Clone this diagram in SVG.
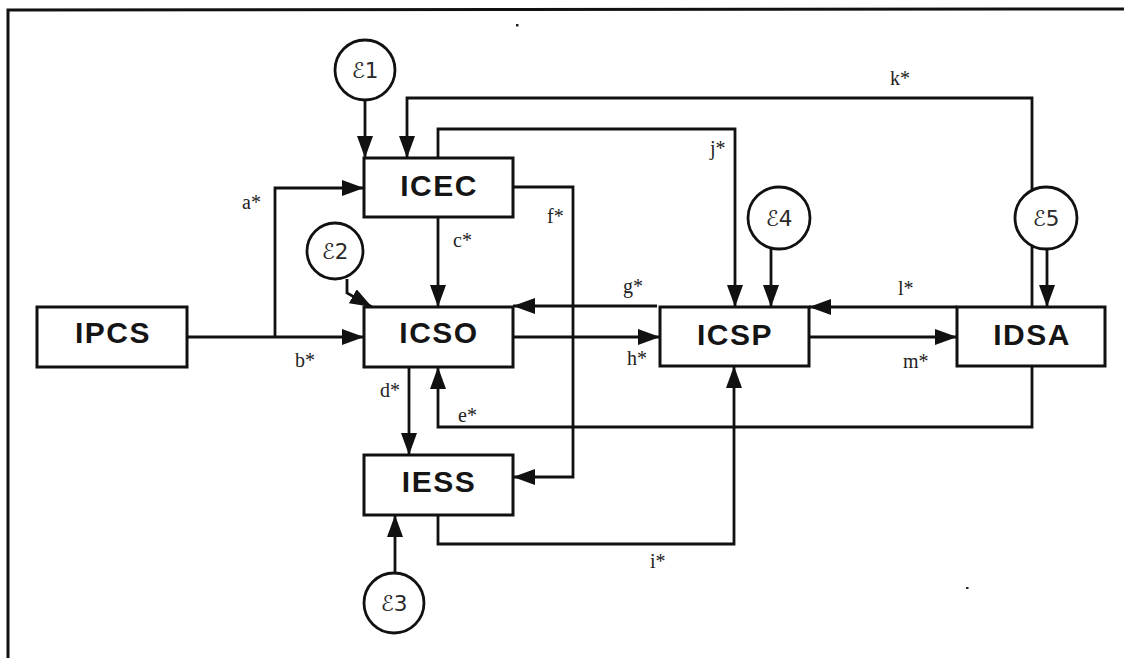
<svg xmlns="http://www.w3.org/2000/svg" width="1124" height="658" viewBox="0 0 1124 658">
<defs>
<marker id="ah" markerUnits="userSpaceOnUse" markerWidth="22" markerHeight="16" refX="22" refY="8" orient="auto" viewBox="0 0 22 16">
<path d="M0,0 L22,8 L0,16 z" fill="#111"/>
</marker>
<style>
.box{fill:#fff;stroke:#111;stroke-width:3}
.lbl{font-family:"Liberation Sans",Arial,sans-serif;font-weight:bold;font-size:30px;letter-spacing:1.5px;fill:#151515;text-anchor:middle}
.err{fill:#fff;stroke:#111;stroke-width:2.8}
.etx{font-family:"DejaVu Sans",sans-serif;font-size:21.5px;fill:#2a2a2a;text-anchor:middle}
.c{fill:none;stroke:#111;stroke-width:2.8;marker-end:url(#ah)}
.t{font-family:"Liberation Serif","Times New Roman",serif;font-size:20px;fill:#222}
</style>
</defs>
<rect width="1124" height="658" fill="#fff"/>
<polyline points="8,658 8,10 1124,9" fill="none" stroke="#111" stroke-width="3"/>
<rect x="516" y="24" width="2.5" height="2.5" fill="#222"/>
<rect x="966" y="587" width="2.5" height="2" fill="#222"/>

<g id="connectors">
<path class="c" d="M187,337 H364"/>
<path class="c" d="M275,337 V188 H364"/>
<path class="c" d="M365,100 V158"/>
<path class="c" d="M1032,307 V98 H407 V158"/>
<path class="c" d="M438,158 V129 H735 V307"/>
<path class="c" d="M438,217 V307"/>
<path class="c" d="M513,187 H573 V477 H513"/>
<path class="c" d="M347,279 V293 L372,307"/>
<path class="c" d="M409,367 V455"/>
<path class="c" d="M1032,366 V427 H438 V367"/>
<path class="c" d="M657,306 H513"/>
<path class="c" d="M513,337 H660"/>
<path class="c" d="M957,307 H809"/>
<path class="c" d="M809,337 H957"/>
<path class="c" d="M771,246 V307"/>
<path class="c" d="M1047,248 V307"/>
<path class="c" d="M438,515 V544 H734 V366"/>
<path class="c" d="M395,573 V515"/>
<text class="t" x="242" y="209">a*</text>
<text class="t" x="295" y="367">b*</text>
<text class="t" x="453" y="247">c*</text>
<text class="t" x="380" y="397">d*</text>
<text class="t" x="458" y="422">e*</text>
<text class="t" x="547" y="223">f*</text>
<text class="t" x="623" y="293">g*</text>
<text class="t" x="627" y="365">h*</text>
<text class="t" x="650" y="568">i*</text>
<text class="t" x="710" y="155">j*</text>
<text class="t" x="890" y="85">k*</text>
<text class="t" x="898" y="295">l*</text>
<text class="t" x="903" y="368">m*</text>
</g>

<g id="IPCS"><rect class="box" x="37" y="307" width="150" height="60"/><text class="lbl" x="113" y="343">IPCS</text></g>
<g id="ICEC"><rect class="box" x="364" y="158" width="149" height="59"/><text class="lbl" x="439" y="196">ICEC</text></g>
<g id="ICSO"><rect class="box" x="364" y="307" width="149" height="60"/><text class="lbl" x="439" y="343">ICSO</text></g>
<g id="IESS"><rect class="box" x="364" y="455" width="149" height="60"/><text class="lbl" x="439" y="492">IESS</text></g>
<g id="ICSP"><rect class="box" x="660" y="307" width="149" height="59"/><text class="lbl" x="735" y="345">ICSP</text></g>
<g id="IDSA"><rect class="box" x="957" y="307" width="148" height="59"/><text class="lbl" x="1032" y="345">IDSA</text></g>

<g id="e1"><circle class="err" cx="365" cy="70" r="30"/><text class="etx" x="365" y="78">ℰ1</text></g>
<g id="e2"><circle class="err" cx="335" cy="251" r="28"/><text class="etx" x="335" y="259">ℰ2</text></g>
<g id="e3"><circle class="err" cx="394" cy="603" r="30"/><text class="etx" x="394" y="611">ℰ3</text></g>
<g id="e4"><circle class="err" cx="779" cy="218" r="31"/><text class="etx" x="779" y="226">ℰ4</text></g>
<g id="e5"><circle class="err" cx="1046" cy="218" r="31"/><text class="etx" x="1046" y="226">ℰ5</text></g>
</svg>
